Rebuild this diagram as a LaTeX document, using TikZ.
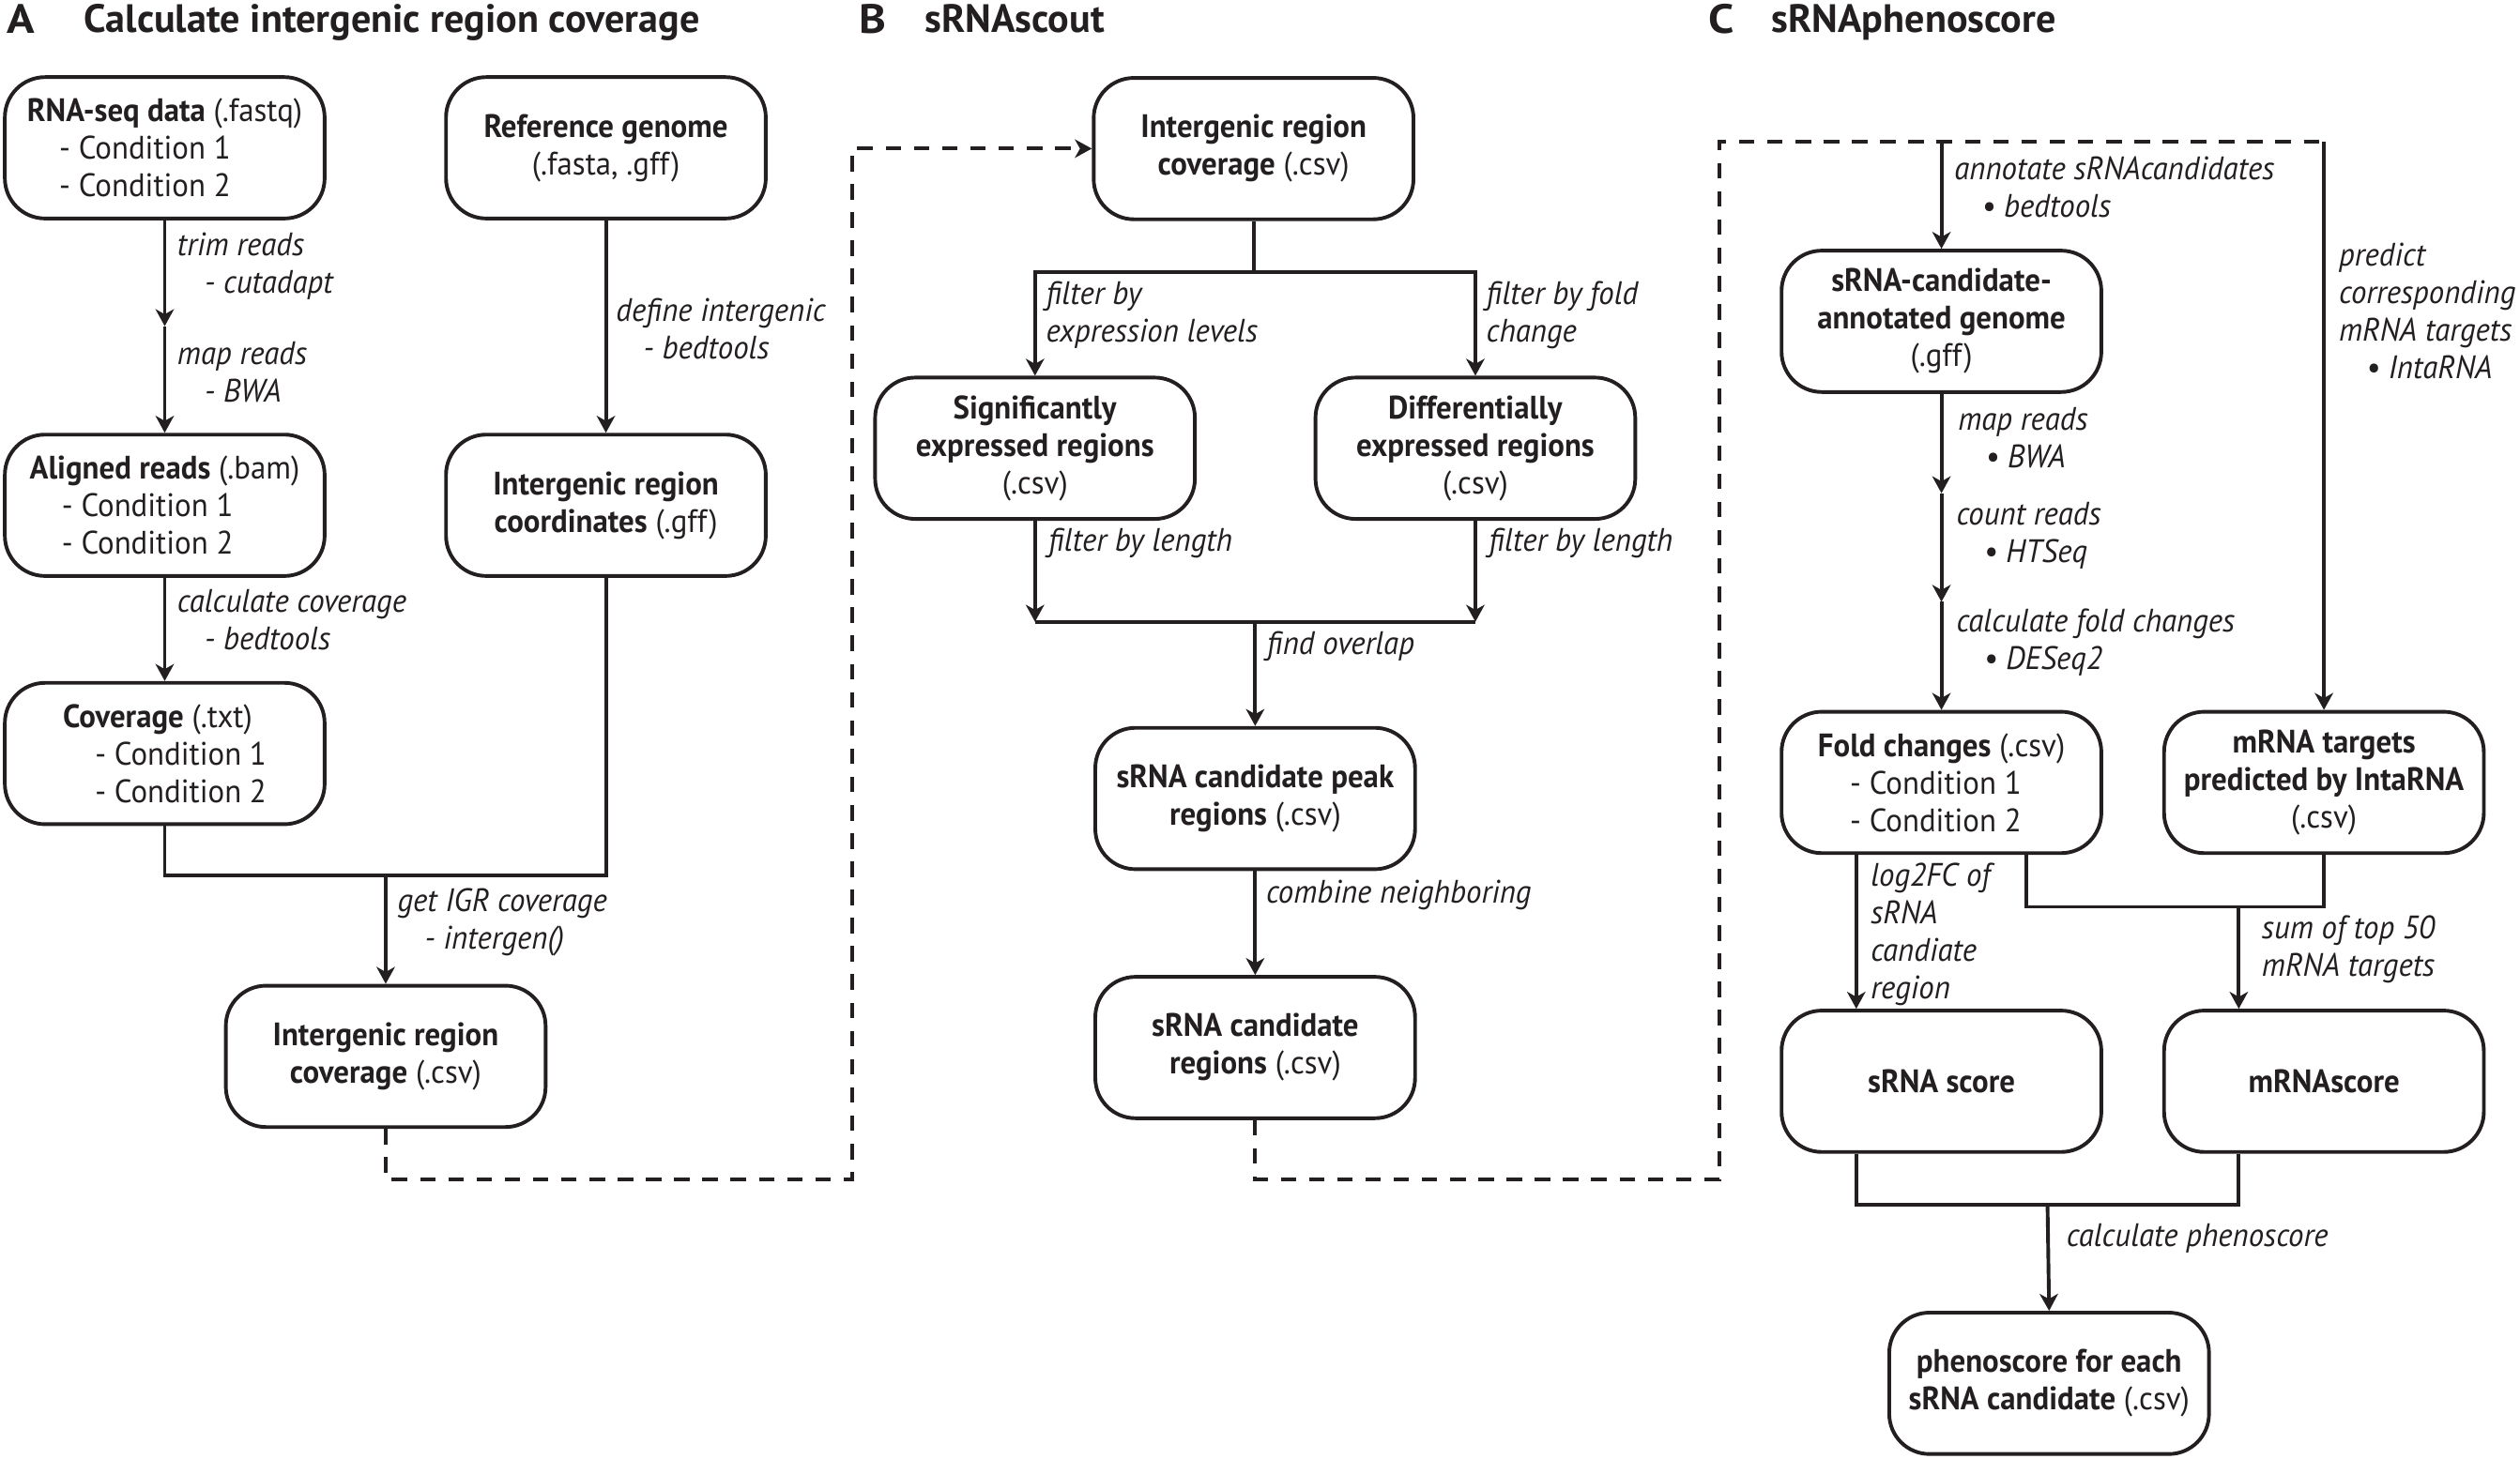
\documentclass[tikz,border=0pt]{standalone}
\usepackage{fontspec}
\setmainfont{PT Sans}[FakeStretch=0.95]
\newfontfamily\ttlfont{PT Sans}
\newfontfamily\letterfont{PT Sans}[FakeStretch=1.12]
\usetikzlibrary{arrows.meta,calc}
\definecolor{ink}{HTML}{231F20}
\newcommand\bxfont{\fontsize{11.5pt}{13.3pt}\selectfont}
\newcommand\ind{\hspace*{0.34cm}}
\newcommand\cind{\hspace*{0.4cm}}
\begin{document}
\begin{tikzpicture}[x=0.02cm,y=-0.02cm,
  box/.style={draw=ink, line width=1.3pt, rounded corners=0.5cm, minimum width=3.98cm, minimum height=1.76cm, align=center, font=\bxfont, text=ink, inner sep=2pt},
  lbox/.style={box, align=left},
  lbl/.style={anchor=west, align=left, font=\bxfont\itshape, text=ink, inner sep=0pt},
  ln/.style={draw=ink, line width=1.3pt},
  arr/.style={ln, -{Stealth[length=6pt,width=6.5pt,inset=1.8pt]}},
  dsh/.style={ln, dash pattern=on 5.5pt off 4.5pt},
  letter/.style={anchor=base west, font=\letterfont\fontsize{14.5pt}{16pt}\selectfont\bfseries, text=ink, inner sep=0pt},
  ttl/.style={anchor=base west, font=\ttlfont\fontsize{14pt}{16pt}\selectfont\bfseries, text=ink, inner sep=0pt}
]
\useasboundingbox (0,0) rectangle (1568,908);

% ---------- titles ----------
\node[letter] (pa) at (4,21) {A};
\node[ttl] (ta) at (52,20) {Calculate intergenic region coverage};
\node[letter] (pb) at (534,21) {B};
\node[ttl] (tb) at (575,20) {sRNAscout};
\node[letter] (pc) at (1063,21) {C};
\node[ttl] (tc) at (1102,20) {sRNAphenoscore};

% ---------- panel A ----------
\node[lbox] (rna) at (102.5,92) {\textbf{RNA-seq data} (.fastq)\\\cind- Condition 1\\\cind- Condition 2};
\node[box] (ref) at (377,92) {\textbf{Reference genome}\\(.fasta, .gff)};
\node[lbox] (aln) at (102.5,314.5) {\textbf{Aligned reads} (.bam)\\\cind- Condition 1\\\cind- Condition 2};
\node[box] (igc) at (377,314.5) {\textbf{Intergenic region}\\\textbf{coordinates} (.gff)};
\node[lbox] (cov) at (102.5,469) {\textbf{Coverage} (.txt)\\\cind- Condition 1\\\cind- Condition 2};
\node[box] (igr) at (240,657.5) {\textbf{Intergenic region}\\\textbf{coverage} (.csv)};

\coordinate (m1) at (102.5,203);
\coordinate (j1) at (240,545);
\coordinate (d1) at (530,734);

\draw[arr] (rna.south) -- (m1);
\draw[arr] (m1) -- (aln.north);
\draw[arr] (aln.south) -- (cov.north);
\draw[arr] (ref.south) -- (igc.north);
\draw[ln] (cov.south) |- (j1) -| (igc.south);
\draw[arr] (j1) -- (igr.north);

\node[lbl] (l1) at (110,165.5) {trim reads\\\ind- cutadapt};
\node[lbl] (l2) at (110,231.5) {map reads\\\ind- BWA};
\node[lbl] (l3) at (110,385.5) {calculate coverage\\\ind- bedtools};
\node[lbl] (l4) at (383,204.5) {define intergenic\\\ind- bedtools};
\node[lbl] (l5) at (247,574) {get IGR coverage\\\ind- intergen()};

% ---------- panel B ----------
\node[box] (b1) at (780,92.5) {\textbf{Intergenic region}\\\textbf{coverage} (.csv)};
\node[box] (sig) at (644,279) {\textbf{Significantly}\\\textbf{expressed regions}\\(.csv)};
\node[box] (dif) at (918,279) {\textbf{Differentially}\\\textbf{expressed regions}\\(.csv)};
\node[box] (peak) at (781,497) {\textbf{sRNA candidate peak}\\\textbf{regions} (.csv)};
\node[box] (cand) at (781,652) {\textbf{sRNA candidate}\\\textbf{regions} (.csv)};

\draw[dsh, -{Stealth[length=6pt,width=6.5pt,inset=1.8pt]}] (igr.south) |- (d1) |- (b1.west);

\coordinate (j2) at (780,169.5);
\coordinate (j3) at (781,387);
\draw[ln] (b1.south) -- (j2);
\draw[arr] (j2) -| (sig.north);
\draw[arr] (j2) -| (dif.north);
\draw[arr] (sig.south) -- (sig.south |- j3);
\draw[arr] (dif.south) -- (dif.south |- j3);
\draw[ln] (sig.south |- j3) -- (dif.south |- j3);
\draw[arr] (j3) -- (peak.north);
\draw[arr] (peak.south) -- (cand.north);

\node[lbl] (l6) at (650.5,196) {filter by\\expression levels};
\node[lbl] (l7) at (924.5,196) {filter by fold\\change};
\node[lbl] (l8) at (652,338) {filter by length};
\node[lbl] (l9) at (926,338) {filter by length};
\node[lbl] (l10) at (788,402) {find overlap};
\node[lbl] (l11) at (787.5,557) {combine neighboring};

% ---------- panel C ----------
\node[box] (ann) at (1208,200) {\textbf{sRNA-candidate-}\\\textbf{annotated genome}\\(.gff)};
\node[lbox] (fold) at (1208,487) {\textbf{Fold changes} (.csv)\\\cind- Condition 1\\\cind- Condition 2};
\node[box] (mtar) at (1446,487) {\textbf{mRNA targets}\\\textbf{predicted by IntaRNA}\\(.csv)};
\node[box] (ss) at (1208,673) {\textbf{sRNA score}};
\node[box] (ms) at (1446,673) {\textbf{mRNAscore}};
\node[box] (phen) at (1275,861) {\textbf{phenoscore for each}\\\textbf{sRNA candidate} (.csv)};

\coordinate (d2) at (1070,734);
\coordinate (d3) at (1446,88);
\coordinate (d4) at (1208,88);
\draw[dsh] (cand.south) |- (d2) |- (d3);
\draw[arr] (d4) -- (ann.north);
\draw[arr] (d3) -- (mtar.north);

\coordinate (c1) at (1208,307);
\coordinate (c2) at (1208,374.6);
\draw[arr] (ann.south) -- (c1);
\draw[arr] (c1) -- (c2);
\draw[arr] (c2) -- (fold.north);

\coordinate (j4) at (1393,564.4);
\coordinate (j5) at (1274,750);
\draw[arr] ($(fold.south)+(-53,0)$) -- ($(ss.north)+(-53,0)$);
\draw[ln] ($(fold.south)+(53,0)$) |- (j4) -| (mtar.south);
\draw[arr] (j4) -- ($(ms.north)+(-53,0)$);
\draw[ln] ($(ss.south)+(-53,0)$) |- (j5) -| ($(ms.south)+(-53,0)$);
\draw[arr] (j5) -- (phen.north);

\node[lbl] (l12) at (1215.7,116.5) {annotate sRNAcandidates\\\ind• bedtools};
\node[lbl] (l13) at (1218,272.5) {map reads\\\ind• BWA};
\node[lbl] (l14) at (1217,333.5) {count reads\\\ind• HTSeq};
\node[lbl] (l15) at (1217,400) {calculate fold changes\\\ind• DESeq2};
\node[lbl] (l16) at (1455,193.5) {predict\\corresponding\\mRNA targets\\\ind• IntaRNA};
\node[lbl] (l17) at (1163.7,581.5) {log2FC of\\sRNA\\candiate\\region};
\node[lbl] (l18) at (1407,591) {sum of top 50\\mRNA targets};
\node[lbl] (l19) at (1285.5,770.5) {calculate phenoscore};
\end{tikzpicture}
\end{document}
